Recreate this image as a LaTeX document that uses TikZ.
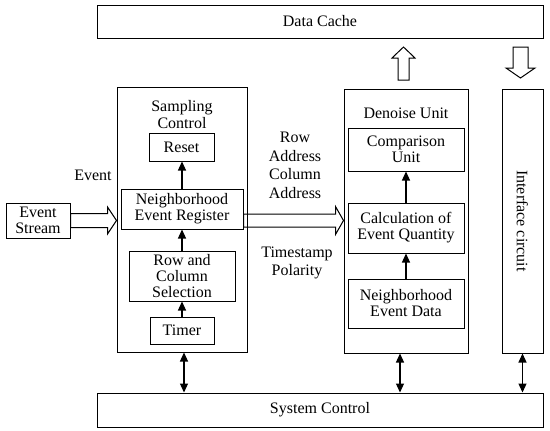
\documentclass[tikz,border=0pt]{standalone}
\usepackage{fontspec}
\setmainfont{Liberation Serif}
\usetikzlibrary{
    calc,
    arrows.meta
}
\tikzset{
  box/.style={
    draw,
    line width=1pt,
    inner sep=0pt,
    align=center,
    font=\fontsize{16}{16}\selectfont
  },
  lbl/.style={
    inner sep=0pt,
    align=center,
    font=\fontsize{16}{18.5}\selectfont
  },
  link/.style={
    line width=1.2pt,
    -{Triangle[length=9pt,width=8pt]}
  },
  both/.style={
    line width=1.2pt,
    {Triangle[length=9pt,width=8pt]}-{Triangle[length=9pt,width=8pt]}
  },
  hollow/.style={
    line width=1pt,
    line join=miter
  }
}

% 白抜き矢印: 始点, 終点, 軸の半幅, 頭の半幅, 頭の長さ
\newcommand{\fatarrow}[5]{%
  \coordinate (fb) at ($(#2)!#5!(#1)$);
  \draw[hollow] ($(#1)!#3!90:(#2)$) -- ($(fb)!#3!90:(#2)$) -- ($(fb)!#4!90:(#2)$)
    -- (#2) -- ($(fb)!#4!-90:(#2)$) -- ($(fb)!#3!-90:(#2)$) -- ($(#1)!#3!-90:(#2)$) -- cycle;
}

\begin{document}
\begin{tikzpicture}[x=1pt,y=-1pt]

    \useasboundingbox (0,0) rectangle (550,431);

    % 外側のブロック
    \node[box,minimum width=446pt,minimum height=33pt] (cache) at (320,21.5) {Data Cache};
    \node[box,minimum width=446pt,minimum height=34pt] (sysctl) at (320,410) {System Control};
    \node[box,minimum width=130pt,minimum height=265pt] (sampling) at (182,219.5) {};
    \node[box,minimum width=124pt,minimum height=264pt] (denoise) at (406,221) {};
    \node[box,minimum width=41pt,minimum height=264pt] (iface) at (522.5,221)
        {\rotatebox{-90}{Interface circuit}};
    \node[box,minimum width=64pt,minimum height=35pt] (stream) at (38,220.5) {Event\\Stream};

    % Sampling Control の中
    \node[lbl] (samplbl) at (182,114.5) {Sampling\\[-1.5pt]Control};
    \node[box,minimum width=65pt,minimum height=28pt] (reset) at (181.5,147) {Reset};
    \node[box,minimum width=122pt,minimum height=40pt] (ner) at (182,209) {Neighborhood\\Event Register};
    \node[box,minimum width=106pt,minimum height=50pt] (rcs) at (182,276) {Row and\\Column\\Selection};
    \node[box,minimum width=64pt,minimum height=27pt] (timer) at (182,330.5) {Timer};

    % Denoise Unit の中
    \node[lbl] (denlbl) at (406,113) {Denoise Unit};
    \node[box,minimum width=116pt,minimum height=43pt] (comp) at (406,149.5) {Comparison\\Unit};
    \node[box,minimum width=116pt,minimum height=50pt] (calc) at (406,228) {Calculation of\\Event Quantity};
    \node[box,minimum width=116pt,minimum height=49pt] (ned) at (406,303.5) {Neighborhood\\Event Data};

    % ラベル
    \node[lbl] (evlbl) at (93,175) {Event};
    \node[lbl] (addrlbl) at (295,165.5) {Row\\Address\\Column\\Address};
    \node[lbl] (tslbl) at (297,263) {Timestamp\\Polarity};

    % 内部の矢印
    \draw[link] (timer) -- (rcs);
    \draw[link] (rcs) -- (ner);
    \draw[link] (ner.north) -- (ner.north |- reset.south);
    \draw[link] (ned) -- (calc);
    \draw[link] (calc) -- (comp);

    % System Control との双方向矢印
    \draw[both] ([xshift=2pt]sampling.south) -- ([xshift=2pt]sampling.south |- sysctl.north);
    \draw[both] ([xshift=-6pt]denoise.south) -- ([xshift=-6pt]denoise.south |- sysctl.north);
    \draw[both] (iface.south) -- (iface.south |- sysctl.north);

    % 白抜き矢印
    \fatarrow{stream.east}{sampling.west |- stream.east}{7pt}{13.5pt}{9pt}
    \fatarrow{ner.east |- stream.east}{denoise.west |- stream.east}{6.5pt}{14pt}{8pt}

    \coordinate (upA) at (403.5,80);
    \coordinate (upB) at (403.5,47);
    \fatarrow{upA}{upB}{5.5pt}{11.5pt}{11pt}

    \coordinate (dnA) at (520.5,47);
    \coordinate (dnB) at (520.5,78);
    \fatarrow{dnA}{dnB}{7.5pt}{14.5pt}{10pt}

\end{tikzpicture}
\end{document}
